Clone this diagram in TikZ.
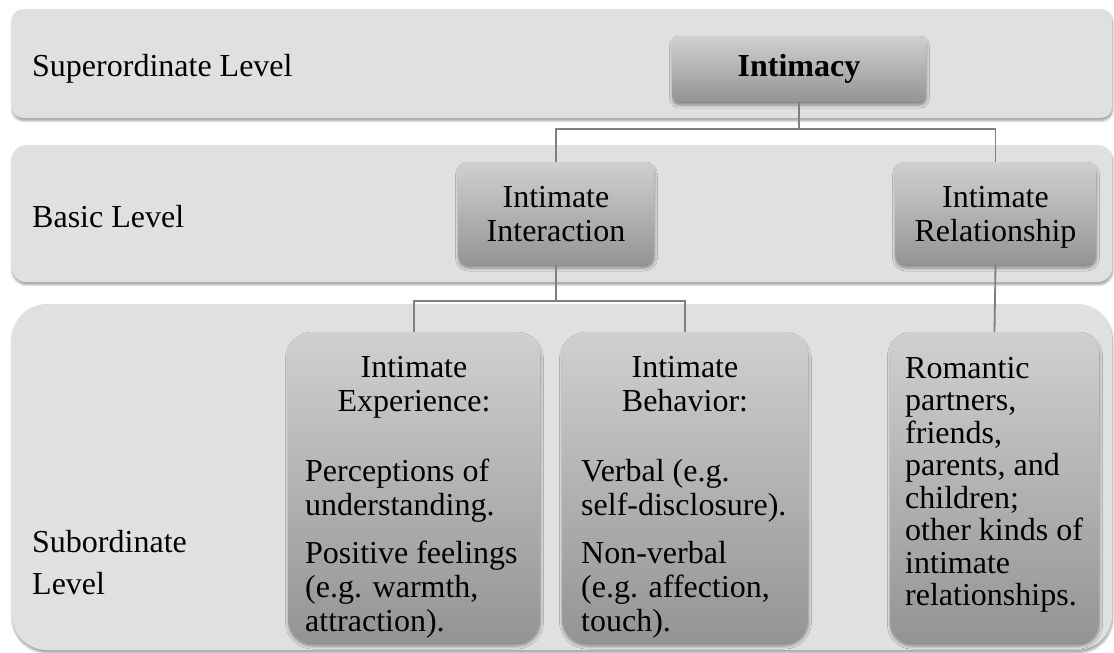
\documentclass[tikz,border=0pt]{standalone}
\usepackage{fontspec}
\setmainfont{Liberation Serif}
\usetikzlibrary{shadows.blur}
\setlength{\parindent}{0pt}
\definecolor{bandgray}{RGB}{224,224,224}
\definecolor{boxtop}{RGB}{208,208,208}
\definecolor{boxbot}{RGB}{148,148,148}
\definecolor{linegray}{RGB}{128,128,128}
\tikzset{
  band/.style={draw=none, fill=bandgray, inner sep=0pt, rounded corners=#1,
    blur shadow={shadow xshift=0.5pt, shadow yshift=-2.5pt, shadow blur radius=2.5pt, shadow blur steps=6, shadow opacity=40}},
  box/.style={draw=none, top color=boxtop, bottom color=boxbot, inner sep=0pt, rounded corners=#1,
    blur shadow={shadow xshift=0.5pt, shadow yshift=-3pt, shadow blur radius=3pt, shadow blur steps=6, shadow opacity=40},
    font=\fontsize{32}{34}\selectfont, align=center},
  lvl/.style={font=\fontsize{32}{34}\selectfont, inner sep=0pt, anchor=base west},
  subtitle/.style={font=\fontsize{32}{34}\selectfont, inner sep=0pt, anchor=north, align=center},
  subbody/.style={font=\fontsize{32}{34}\selectfont, inner sep=0pt, anchor=north west, align=left},
  conn/.style={draw=linegray, line width=1.8pt}
}
\begin{document}
\begin{tikzpicture}[x=1pt,y=-1pt]
\useasboundingbox (0,0) rectangle (1114,653);
% bands
\node[band=11pt, minimum width=1100pt, minimum height=109pt] (b1) at (562,63.5) {};
\node[band=14pt, minimum width=1100pt, minimum height=137pt] (b2) at (562,213.5) {};
\node[band=35pt, minimum width=1100pt, minimum height=346pt] (b3) at (562,477) {};
% level labels
\node[lvl] (l1) at (32,76) {Superordinate Level};
\node[lvl] (l2) at (32,227) {Basic Level};
\node[lvl] (l3a) at (32,552) {Subordinate};
\node[lvl] (l3b) at (32,594) {Level};
% boxes
\node[box=7pt, minimum width=254pt, minimum height=66pt] (intimacy) at (799,69) {\textbf{Intimacy}};
\node[box=10pt, minimum width=196pt, minimum height=103pt, text depth=0pt] (inter) at (556,213.5) {Intimate\\Interaction};
\node[box=10pt, minimum width=201pt, minimum height=103pt, text depth=0pt] (rel) at (995.5,213.5) {Intimate\\Relationship};
\node[box=24pt, minimum width=252pt, minimum height=311pt] (exp) at (414,487.5) {};
\node[box=24pt, minimum width=246pt, minimum height=311pt] (beh) at (685,487.5) {};
\node[box=21pt, minimum width=209pt, minimum height=311pt] (rom) at (994.5,487.5) {};
% box texts
\node[subtitle] (exptitle) at (414,356) {Intimate\\Experience:};
\node[subbody] (expbody) at (305,459) {Perceptions of\\understanding.\\[14pt]Positive feelings\\(e.g. warmth,\\attraction).};
\node[subtitle] (behtitle) at (685,356) {Intimate\\Behavior:};
\node[subbody] (behbody) at (581,459) {Verbal (e.g.\\self-disclosure).\\[14pt]Non-verbal\\(e.g. affection,\\touch).};
\node[subbody, font=\fontsize{32}{32.5}\selectfont] (rombody) at (905,357) {Romantic\\partners,\\friends,\\parents, and\\children;\\other kinds of\\intimate\\relationships.};
% connectors
\coordinate (h1) at (0,129);
\coordinate (h2) at (0,301);
\draw[conn] (intimacy.south) -- (intimacy.south |- h1) -| (inter.north);
\draw[conn] (intimacy.south |- h1) -| (rel.north);
\draw[conn] (inter.south) -- (inter.south |- h2) -| (exp.north);
\draw[conn] (inter.south |- h2) -| (beh.north);
\draw[conn] (rel.south) -- (rom.north);
\end{tikzpicture}
\end{document}
